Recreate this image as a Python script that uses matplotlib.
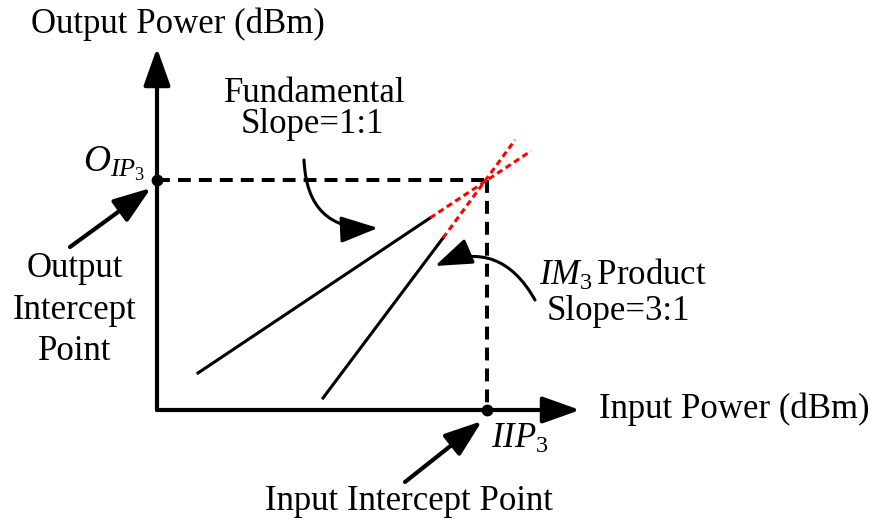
import matplotlib
matplotlib.use('Agg')
import matplotlib.pyplot as plt
from matplotlib.patches import FancyArrowPatch

plt.rcParams['font.family'] = 'Liberation Serif'
plt.rcParams['mathtext.fontset'] = 'custom'
plt.rcParams['mathtext.rm'] = 'Liberation Serif'
plt.rcParams['mathtext.it'] = 'Liberation Serif:italic'

# diagram geometry, in pixel units of the canvas (y grows downward)
origin = (157, 410)
x_axis_end = 580
y_axis_end = 48
intercept = (487, 180)

# fundamental: solid part then the dotted extrapolation
fund_x = [198, 430, 531]
fund_y = [373, 218, 151]
# third order product
im3_x = [323, 443, 515]
im3_y = [398, 238, 140]

# straight pointer arrows (tail, head)
oip_arrow = [(70, 247), (151, 188)]
iip_arrow = [(405, 482), (482, 421)]
# curved pointer arrows (tail, head, bend)
fund_arrow = [(304, 160), (378, 228), 0.5]
im3_arrow = [(535, 300), (435, 266), 0.45]

FS = 25

fig = plt.figure(figsize=(8.72, 5.2), dpi=100)
ax = fig.add_axes([0, 0, 1, 1])
ax.set_xlim(0, 872)
ax.set_ylim(520, 0)
ax.axis('off')


def arrow(p0, p1, rad=0.0, lw=3.0):
    a = FancyArrowPatch(p0, p1, arrowstyle='-|>,head_length=2.3,head_width=0.82',
                        mutation_scale=10, connectionstyle='arc3,rad=%g' % rad,
                        color='black', lw=lw, shrinkA=0, shrinkB=0, zorder=5)
    ax.add_patch(a)


# axes
arrow(origin, (x_axis_end, origin[1]))
arrow(origin, (origin[0], y_axis_end))

# dashed guides to the intercept point
ax.plot([origin[0], intercept[0]], [intercept[1], intercept[1]], color='black',
        lw=2.9, ls=(0, (3.2, 2.0)), dash_capstyle='butt')
ax.plot([intercept[0], intercept[0]], [intercept[1], origin[1]], color='black',
        lw=2.9, ls=(0, (3.2, 2.0)), dash_capstyle='butt')

# response curves
ax.plot(fund_x[:2], fund_y[:2], color='black', lw=2.2)
ax.plot(fund_x[1:], fund_y[1:], color='red', lw=2.2, ls=(0, (2.0, 1.3)))
ax.plot(im3_x[:2], im3_y[:2], color='black', lw=2.2)
ax.plot(im3_x[1:], im3_y[1:], color='red', lw=2.2, ls=(0, (2.0, 1.3)))

# intercept markers on the axes
ax.plot([origin[0], intercept[0]], [intercept[1], origin[1]], 'o', color='black',
        ms=7.5, zorder=6, ls='none')

# pointers
arrow(*oip_arrow)
arrow(*iip_arrow)
arrow(fund_arrow[0], fund_arrow[1], rad=fund_arrow[2], lw=2.2)
arrow(im3_arrow[0], im3_arrow[1], rad=im3_arrow[2], lw=2.2)

# labels
ax.text(31, 33, 'Output Power (dBm)', fontsize=FS, va='baseline', ha='left')
ax.text(599, 418, 'Input Power (dBm)', fontsize=FS, va='baseline', ha='left')
ax.text(315, 102, 'Fundamental', fontsize=FS, va='baseline', ha='center')
ax.text(312, 133, 'Slope=1:1', fontsize=FS, va='baseline', ha='center')
ax.text(83, 172, r'$O_{IP_{\mathit{3}}}$', fontsize=FS + 2, va='baseline', ha='left')
ax.text(75, 277, 'Output', fontsize=FS, va='baseline', ha='center')
ax.text(75, 319, 'Intercept', fontsize=FS, va='baseline', ha='center')
ax.text(75, 360, 'Point', fontsize=FS, va='baseline', ha='center')
ax.text(623, 285, r'$IM_{\mathit{3}}\,$Product', fontsize=FS, va='baseline', ha='center')
ax.text(618, 320, 'Slope=3:1', fontsize=FS, va='baseline', ha='center')
ax.text(491, 448, r'$IIP_{\mathit{3}}$', fontsize=FS, va='baseline', ha='left')
ax.text(409, 510, 'Input Intercept Point', fontsize=FS, va='baseline', ha='center')

fig.savefig('out.png', dpi=100, facecolor='white')
